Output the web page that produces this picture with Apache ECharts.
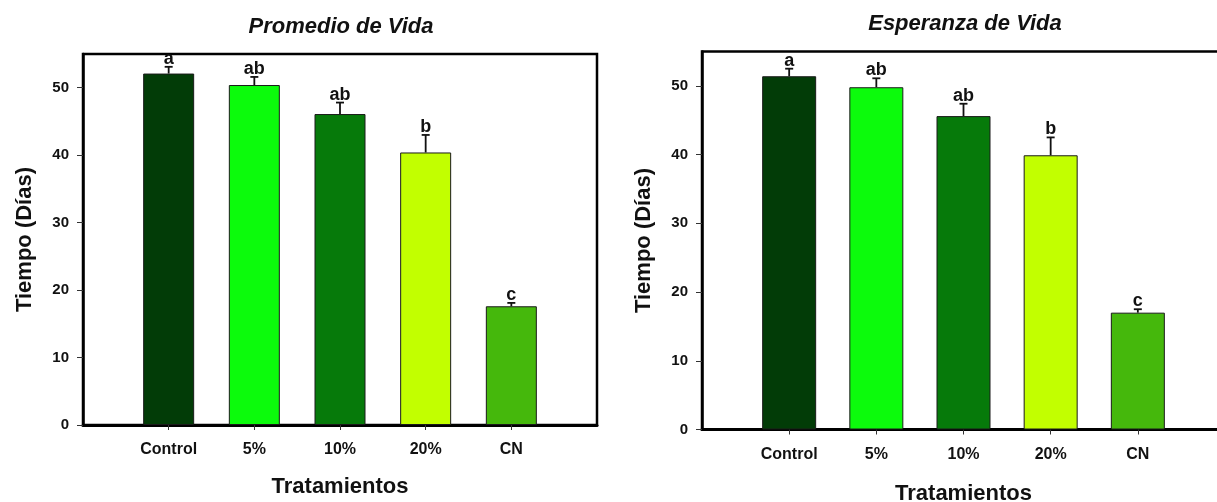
<!DOCTYPE html>
<html>
<head>
<meta charset="utf-8">
<style>
  html, body { margin: 0; padding: 0; background: #ffffff; }
  #chart { width: 1217px; height: 502px; }
</style>
<script src="https://cdn.jsdelivr.net/npm/echarts@6/dist/echarts.min.js"></script>
</head>
<body>
<div id="chart"></div>
<script>
// Treatments and their bar colours
const categories = ['Control', '5%', '10%', '20%', 'CN'];
const barColors = ['#023c07', '#0cfb0c', '#067a0a', '#c2ff00', '#45b80c'];

// Promedio de Vida: mean, standard error, significance letters
const promedioMean = [52.1, 50.4, 46.1, 40.4, 17.6];
const promedioErr = [1.0, 1.2, 1.7, 2.6, 0.5];
const promedioLetters = ['a', 'ab', 'ab', 'b', 'c'];

// Esperanza de Vida: mean, standard error, significance letters
const esperanzaMean = [51.4, 49.8, 45.6, 39.9, 17.0];
const esperanzaErr = [1.1, 1.3, 1.8, 2.6, 0.5];
const esperanzaLetters = ['a', 'ab', 'ab', 'b', 'c'];

const yTicks = [0, 10, 20, 30, 40, 50];

const FONT = "'Liberation Sans', Arial, Helvetica, sans-serif";

// Empty slots at both ends so the five treatments sit at 1..5 of a 0..6 axis
const axisData = [''].concat(categories, ['']);

function barData(means) {
  return [null].concat(means.map((v, i) => ({ value: v, itemStyle: { color: barColors[i] } })), [null]);
}

function errorData(means, errs) {
  return means.map((v, i) => [i + 1, v, errs[i]]);
}

function errorRenderer(letters) {
  return function (params, api) {
    const x = api.value(0);
    const mean = api.value(1);
    const err = api.value(2);
    const base = api.coord([x, mean]);
    const top = api.coord([x, mean + err]);
    const cap = 4;
    const lineStyle = { stroke: '#111', lineWidth: 1.8 };
    return {
      type: 'group',
      children: [
        { type: 'line', shape: { x1: base[0], y1: base[1], x2: top[0], y2: top[1] }, style: lineStyle },
        { type: 'line', shape: { x1: top[0] - cap, y1: top[1], x2: top[0] + cap, y2: top[1] }, style: lineStyle },
        {
          type: 'text',
          style: {
            text: letters[params.dataIndex],
            x: top[0],
            y: top[1] + 1,
            align: 'center',
            verticalAlign: 'bottom',
            fill: '#111',
            font: 'bold 18px ' + FONT
          }
        }
      ]
    };
  };
}

function xAxis(gridIndex, nameGap) {
  return {
    type: 'category',
    gridIndex: gridIndex,
    data: axisData,
    boundaryGap: false,
    name: 'Tratamientos',
    nameLocation: 'middle',
    nameGap: nameGap,
    nameTextStyle: { fontFamily: FONT, fontWeight: 'bold', fontSize: 22, color: '#111' },
    axisLine: { show: true, lineStyle: { color: '#000', width: 3 } },
    axisTick: {
      show: true,
      length: 5,
      interval: (idx) => idx > 0 && idx < axisData.length - 1,
      lineStyle: { color: '#333', width: 1 }
    },
    axisLabel: {
      margin: 17,
      interval: 0,
      fontFamily: FONT,
      fontWeight: 'bold',
      fontSize: 16,
      color: '#111'
    },
    splitLine: { show: false }
  };
}

function yAxis(gridIndex) {
  return {
    type: 'value',
    gridIndex: gridIndex,
    min: 0,
    max: 55,
    interval: 10,
    name: 'Tiempo (Días)',
    nameLocation: 'middle',
    nameGap: 47,
    nameTextStyle: { fontFamily: FONT, fontWeight: 'bold', fontSize: 22, color: '#111' },
    axisLine: { show: true, lineStyle: { color: '#000', width: 2.5 } },
    axisTick: { show: true, length: 6, customValues: yTicks, lineStyle: { color: '#333', width: 1 } },
    axisLabel: {
      margin: 14,
      customValues: yTicks,
      fontFamily: FONT,
      fontWeight: 'bold',
      fontSize: 15,
      color: '#111'
    },
    splitLine: { show: false }
  };
}

const titleStyle = { fontFamily: FONT, fontWeight: 'bold', fontStyle: 'italic', fontSize: 22, color: '#111' };

const chart = echarts.init(document.getElementById('chart'), null, { renderer: 'canvas' });

chart.setOption({
  animation: false,
  backgroundColor: '#ffffff',
  title: [
    { text: 'Promedio de Vida', left: 336, top: 11, textAlign: 'center', textStyle: titleStyle },
    { text: 'Esperanza de Vida', left: 960, top: 8, textAlign: 'center', textStyle: titleStyle }
  ],
  grid: [
    { left: 83, top: 54, width: 514, height: 371, outerBoundsMode: 'none', containLabel: false, show: true, borderColor: '#000', borderWidth: 2.5, backgroundColor: 'transparent' },
    { left: 702, top: 51.5, width: 523, height: 378, outerBoundsMode: 'none', containLabel: false, show: true, borderColor: '#000', borderWidth: 2.5, backgroundColor: 'transparent' }
  ],
  xAxis: [xAxis(0, 51), xAxis(1, 53)],
  yAxis: [yAxis(0), yAxis(1)],
  series: [
    {
      type: 'bar',
      xAxisIndex: 0,
      yAxisIndex: 0,
      barWidth: 51,
      data: barData(promedioMean),
      itemStyle: { borderColor: '#1a1a1a', borderWidth: 1 }
    },
    {
      type: 'custom',
      xAxisIndex: 0,
      yAxisIndex: 0,
      data: errorData(promedioMean, promedioErr),
      renderItem: errorRenderer(promedioLetters),
      z: 5
    },
    {
      type: 'bar',
      xAxisIndex: 1,
      yAxisIndex: 1,
      barWidth: 54,
      data: barData(esperanzaMean),
      itemStyle: { borderColor: '#1a1a1a', borderWidth: 1 }
    },
    {
      type: 'custom',
      xAxisIndex: 1,
      yAxisIndex: 1,
      data: errorData(esperanzaMean, esperanzaErr),
      renderItem: errorRenderer(esperanzaLetters),
      z: 5
    }
  ]
});
</script>
</body>
</html>
